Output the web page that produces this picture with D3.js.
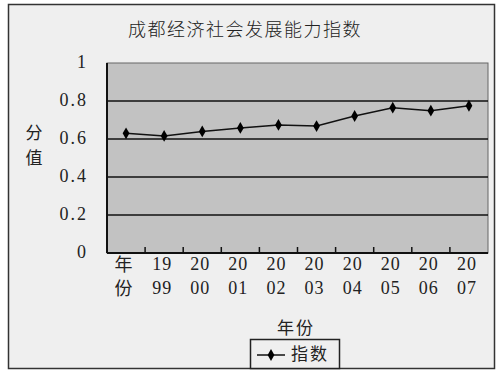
<!DOCTYPE html>
<html>
<head>
<meta charset="utf-8">
<script src="https://cdn.jsdelivr.net/npm/d3@7"></script>
<style>
  body { margin: 0; background: #fff; }
  svg { display: block; }
  text { fill: #222; }
</style>
</head>
<body>
<div id="chart"></div>
<script>
// data
const categories = ["年份", "1999", "2000", "2001", "2002", "2003", "2004", "2005", "2006", "2007"];
const values = [0.63, 0.616, 0.64, 0.658, 0.674, 0.668, 0.721, 0.765, 0.749, 0.775];
const yTicks = [0, 0.2, 0.4, 0.6, 0.8, 1];
const yTickLabels = ["0", "0.2", "0.4", "0.6", "0.8", "1"];
const title = "成都经济社会发展能力指数";
const seriesName = "指数";

const SERIF = "'Times New Roman', 'Liberation Serif', serif";
const CJK = "'Noto Sans CJK SC', sans-serif";

//size
const width = 500, height = 378;
const plot = { left: 107, top: 63, right: 488, bottom: 253 };

//scale
const xScale = d3.scaleBand().domain(categories).range([plot.left, plot.right]);
const yScale = d3.scaleLinear().domain([0, 1]).range([plot.bottom, plot.top]);

const svg = d3.select("#chart").append("svg")
  .attr("width", width)
  .attr("height", height);

//outer frame
svg.append("rect")
  .attr("x", 8.5).attr("y", 4.5)
  .attr("width", 486).attr("height", 364)
  .attr("fill", "#efefef")
  .attr("stroke", "#333").attr("stroke-width", 1.5);

//title
svg.append("text")
  .attr("font-family", CJK)
  .attr("font-weight", 300)
  .attr("x", 245).attr("y", 31)
  .attr("text-anchor", "middle")
  .attr("dominant-baseline", "middle")
  .attr("font-size", 18)
  .attr("letter-spacing", 1.5)
  .text(title);

//plot area
svg.append("rect")
  .attr("x", plot.left).attr("y", plot.top)
  .attr("width", plot.right - plot.left).attr("height", plot.bottom - plot.top)
  .attr("fill", "#c2c2c2")
  .attr("stroke", "#666").attr("stroke-width", 1);

//grid
svg.append("g")
  .selectAll("line")
  .data(yTicks.filter((d) => d > 0 && d < 1))
  .join("line")
  .attr("x1", plot.left).attr("x2", plot.right)
  .attr("y1", (d) => yScale(d)).attr("y2", (d) => yScale(d))
  .attr("stroke", "#111").attr("stroke-width", 1.5);

//y labels
svg.append("g")
  .selectAll("text")
  .data(yTicks)
  .join("text")
  .attr("font-family", SERIF)
  .attr("x", 88)
  .attr("y", (d) => yScale(d) + 1)
  .attr("text-anchor", "end")
  .attr("dominant-baseline", "middle")
  .attr("font-size", 18)
  .attr("letter-spacing", 2)
  .text((d, i) => yTickLabels[i]);

//axes lines
svg.append("line")
  .attr("x1", plot.left).attr("x2", plot.left)
  .attr("y1", plot.top).attr("y2", plot.bottom)
  .attr("stroke", "#111").attr("stroke-width", 2);
svg.append("line")
  .attr("x1", plot.left).attr("x2", plot.right)
  .attr("y1", plot.bottom).attr("y2", plot.bottom)
  .attr("stroke", "#111").attr("stroke-width", 2);

//x ticks (band boundaries)
svg.append("g")
  .selectAll("line")
  .data(categories.slice(1))
  .join("line")
  .attr("x1", (d) => xScale(d)).attr("x2", (d) => xScale(d))
  .attr("y1", plot.bottom - 6).attr("y2", plot.bottom)
  .attr("stroke", "#111").attr("stroke-width", 1.5);

//x labels, two lines each
const xl = svg.append("g")
  .selectAll("g")
  .data(categories)
  .join("g")
  .attr("transform", (d) => `translate(${xScale(d) + xScale.bandwidth() / 2 - 2},0)`);
[0, 1].forEach((line) => {
  xl.append("text")
    .attr("font-family", (d) => (/^\d+$/.test(d) ? SERIF : CJK))
    .attr("y", line === 0 ? 266 : 290)
    .attr("text-anchor", "middle")
    .attr("dominant-baseline", "middle")
    .attr("font-size", 18)
    .attr("letter-spacing", 1)
    .text((d) => {
      const h = Math.ceil(d.length / 2);
      return line === 0 ? d.slice(0, h) : d.slice(h);
    });
});

//y axis title (vertical)
svg.append("g")
  .selectAll("text")
  .data(["分", "值"])
  .join("text")
  .attr("font-family", CJK)
  .attr("x", 34)
  .attr("y", (d, i) => 134 + i * 25)
  .attr("text-anchor", "middle")
  .attr("dominant-baseline", "middle")
  .attr("font-size", 17)
  .text((d) => d);

//x axis title
svg.append("text")
  .attr("font-family", CJK)
  .attr("x", 296).attr("y", 329)
  .attr("text-anchor", "middle")
  .attr("dominant-baseline", "middle")
  .attr("font-size", 17)
  .attr("letter-spacing", 2)
  .text("年份");

//line
const pts = categories.map((c, i) => [xScale(c) + xScale.bandwidth() / 2, yScale(values[i])]);
svg.append("path")
  .attr("d", d3.line()(pts))
  .attr("fill", "none")
  .attr("stroke", "#111").attr("stroke-width", 1.5);

const diamond = d3.symbol().type(d3.symbolDiamond).size(40);
svg.append("g")
  .selectAll("path")
  .data(pts)
  .join("path")
  .attr("transform", (d) => `translate(${d[0]},${d[1]})`)
  .attr("d", diamond)
  .attr("fill", "#000");

//legend
const lg = svg.append("g");
lg.append("rect")
  .attr("x", 250.5).attr("y", 339.5)
  .attr("width", 89).attr("height", 29)
  .attr("fill", "#efefef")
  .attr("stroke", "#222").attr("stroke-width", 1.5);
lg.append("line")
  .attr("x1", 257).attr("x2", 285)
  .attr("y1", 355).attr("y2", 355)
  .attr("stroke", "#111").attr("stroke-width", 1.5);
lg.append("path")
  .attr("transform", "translate(271,355)")
  .attr("d", diamond)
  .attr("fill", "#000");
lg.append("text")
  .attr("font-family", CJK)
  .attr("x", 291).attr("y", 355)
  .attr("dominant-baseline", "middle")
  .attr("font-size", 17)
  .attr("letter-spacing", 2)
  .text(seriesName);
</script>
</body>
</html>
